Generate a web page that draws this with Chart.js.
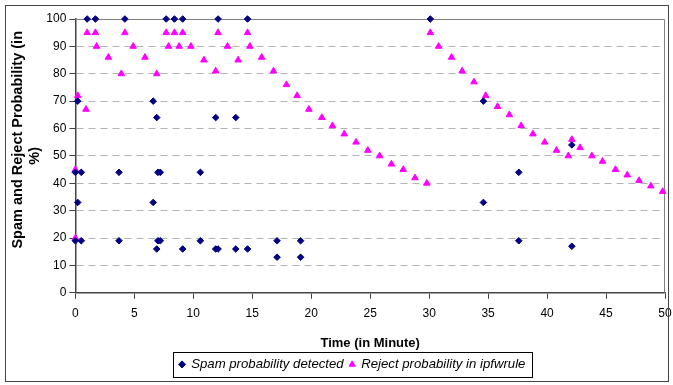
<!DOCTYPE html>
<html>
<head>
<meta charset="utf-8">
<script src="https://cdn.jsdelivr.net/npm/chart.js@4"></script>
<style>
  html, body { margin: 0; padding: 0; background: #fff; }
  #wrap { position: relative; width: 673px; height: 385px; }
  #frame { position: absolute; left: 5px; top: 5px; width: 662px; height: 375px; border: 1.5px solid #444; pointer-events: none; }
</style>
</head>
<body>
<div id="wrap">
  <canvas id="chart" width="673" height="385"></canvas>
  <div id="frame"></div>
</div>
<script>
// Spam probability detected (diamonds)
const spamX = [0, 0, 0.2, 0.2, 0.5, 0.5, 1.0, 1.7, 3.7, 3.7, 4.2, 6.6, 6.6, 6.9, 6.9, 7.0, 7.2, 7.0, 7.2,
  7.7, 8.4, 9.1, 9.1, 10.6, 10.6, 11.9, 11.9, 12.1, 12.1, 13.6, 13.6, 14.6, 14.6, 17.1, 17.1, 19.1, 19.1,
  30.1, 34.6, 34.6, 37.6, 37.6, 42.1, 42.1];
const spamY = [44, 19, 70, 33, 44, 19, 100, 100, 44, 19, 100, 70, 33, 64, 16, 44, 44, 19, 19,
  100, 100, 100, 16, 44, 19, 64, 16, 16, 100, 64, 16, 100, 16, 19, 13, 19, 13,
  100, 70, 33, 44, 19, 54, 17];

// Reject probability in ipfw rule (triangles)
const rejectX = [0, 0, 0.2, 0.9, 1.0, 1.7, 1.8, 2.8, 3.9, 4.2, 4.9, 5.9, 6.9, 7.7, 7.9, 8.4, 8.8, 9.1, 9.8,
  10.9, 11.9, 12.1, 12.9, 13.8, 14.6, 14.8, 15.8, 16.8, 17.9, 18.8, 19.8, 20.9, 21.8, 22.8, 23.8, 24.8,
  25.8, 26.8, 27.8, 28.8, 29.8, 30.1, 30.8, 31.9, 32.8, 33.8, 34.8, 35.8, 36.8, 37.8, 38.8, 39.8, 40.8,
  41.8, 42.1, 42.8, 43.8, 44.7, 45.8, 46.8, 47.8, 48.8, 49.8];
const rejectY = [45, 20, 72, 67, 95, 95, 90, 86, 80, 95, 90, 86, 80, 95, 90, 95, 90, 95, 90,
  85, 81, 95, 90, 85, 95, 90, 86, 81, 76, 72, 67, 64, 61, 58, 55, 52,
  50, 47, 45, 42, 40, 95, 90, 86, 81, 77, 72, 68, 65, 61, 58, 55, 52,
  50, 56, 53, 50, 48, 45, 43, 41, 39, 37];

const xTicks = [0, 5, 10, 15, 20, 25, 30, 35, 40, 45, 50];
const yTicks = [0, 10, 20, 30, 40, 50, 60, 70, 80, 90, 100];

const toPoints = (xs, ys) => xs.map((x, i) => ({ x: x, y: ys[i] }));

const FONT = '"Liberation Sans", Arial, sans-serif';

// box round the plot area and round the legend
const framePlugin = {
  id: 'frames',
  afterLayout(chart) {
    // legend sits a little right of the canvas centre in the original
    chart.legend.left += 15;
    chart.legend.right += 15;
  },
  beforeDatasetsDraw(chart) {
    const a = chart.chartArea;
    const ctx = chart.ctx;
    ctx.save();
    ctx.strokeStyle = '#808080';
    ctx.lineWidth = 1;
    ctx.beginPath();
    ctx.moveTo(a.left, a.top + 0.5);
    ctx.lineTo(a.right - 0.5, a.top + 0.5);
    ctx.lineTo(a.right - 0.5, a.bottom);
    ctx.stroke();
    ctx.restore();
  },
  afterDraw(chart) {
    const boxes = chart.legend.legendHitBoxes;
    if (!boxes || !boxes.length) return;
    const left = Math.min(...boxes.map(b => b.left)) - 7;
    const right = Math.max(...boxes.map(b => b.left + b.width)) + 6;
    const top = Math.min(...boxes.map(b => b.top)) - 6;
    const bottom = Math.max(...boxes.map(b => b.top + b.height)) + 6;
    const ctx = chart.ctx;
    ctx.save();
    ctx.strokeStyle = '#000';
    ctx.lineWidth = 1;
    ctx.strokeRect(Math.round(left) + 0.5, Math.round(top) + 0.5, Math.round(right - left), Math.round(bottom - top));
    ctx.restore();
  }
};

new Chart(document.getElementById('chart'), {
  type: 'scatter',
  data: {
    datasets: [
      {
        label: 'Spam probability detected',
        data: toPoints(spamX, spamY),
        pointStyle: 'rectRot',
        pointRadius: 3.3,
        backgroundColor: '#000080',
        borderColor: '#000080',
        borderWidth: 1,
        clip: false
      },
      {
        label: 'Reject probability in ipfwrule',
        data: toPoints(rejectX, rejectY),
        pointStyle: 'triangle',
        pointRadius: 3.8,
        backgroundColor: '#ff00ff',
        borderColor: '#ff00ff',
        borderWidth: 1,
        clip: false
      }
    ]
  },
  options: {
    responsive: false,
    animation: false,
    layout: { padding: { left: 10, right: 8, top: 19, bottom: 4 } },
    plugins: {
      tooltip: { enabled: false },
      legend: {
        position: 'bottom',
        labels: {
          usePointStyle: true,
          boxWidth: 5,
          boxHeight: 5,
          padding: 6,
          color: '#000',
          font: { family: FONT, size: 13.2, style: 'italic' }
        }
      }
    },
    scales: {
      x: {
        type: 'linear',
        min: 0,
        max: 50,
        afterBuildTicks: axis => { axis.ticks = xTicks.map(v => ({ value: v })); },
        afterFit: axis => { axis.paddingLeft = 0; axis.paddingRight = 0; },
        grid: { drawOnChartArea: false, tickLength: 6, tickColor: '#444' },
        border: { color: '#444', width: 1.5 },
        ticks: { color: '#000', padding: 8, font: { family: FONT, size: 12 } },
        title: {
          display: true,
          text: 'Time (in Minute)',
          color: '#000',
          padding: { top: 6, bottom: 1 },
          font: { family: FONT, size: 13, weight: 'bold' }
        }
      },
      y: {
        min: 0,
        max: 100,
        afterBuildTicks: axis => { axis.ticks = yTicks.map(v => ({ value: v })); },
        grid: {
          color: c => (c.tick && c.tick.value === 100) ? 'rgba(0,0,0,0)' : '#b4b4b4',
          tickLength: 6,
          tickColor: '#444'
        },
        border: { color: '#444', width: 1.5, dash: [7, 5] },
        ticks: { color: '#000', padding: 3, font: { family: FONT, size: 12 } },
        title: {
          display: true,
          text: ['        Spam and Reject Probability (in', '%)'],
          color: '#000',
          padding: { top: 0, bottom: 0 },
          font: { family: FONT, size: 14.5, weight: 'bold', lineHeight: 1.15 }
        }
      }
    }
  },
  plugins: [framePlugin]
});
</script>
</body>
</html>
